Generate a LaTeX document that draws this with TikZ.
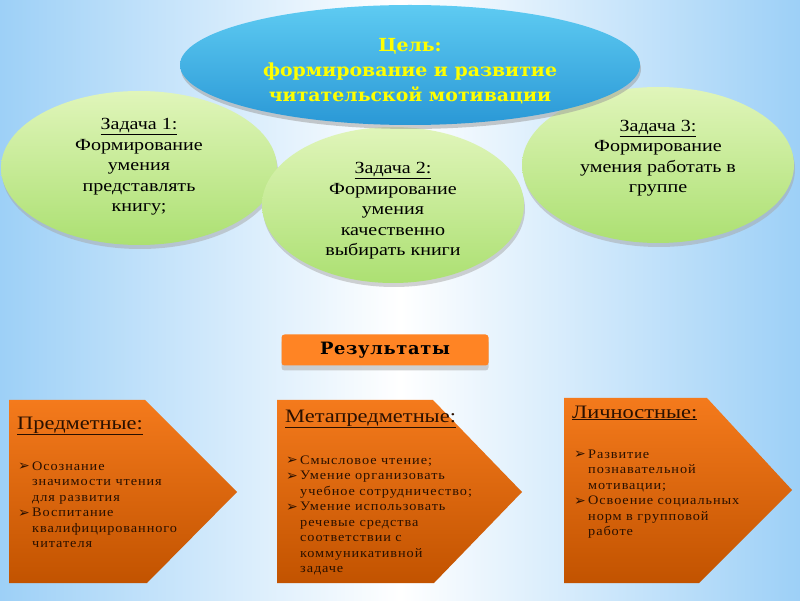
\documentclass[tikz,border=0pt]{standalone}
\usepackage{fontspec}
\setmainfont{Liberation Serif}
\newfontfamily\goalfont[FakeStretch=1.05]{DejaVu Serif}
\newfontfamily\taskfont[FakeStretch=1.18]{Liberation Serif}
\newfontfamily\resfont[FakeStretch=1.05,LetterSpace=4]{DejaVu Serif}
\newfontfamily\listfont[FakeStretch=1.1,LetterSpace=7]{Liberation Serif}
\newfontfamily\markfont{DejaVu Sans}
\usetikzlibrary{shapes.geometric, shadows, positioning}

\definecolor{skyedge}{HTML}{9DD0F7}
\definecolor{goaltop}{HTML}{5ECBF2}
\definecolor{goalbot}{HTML}{2A98D6}
\definecolor{goaltext}{HTML}{FFFF00}
\definecolor{tasktop}{HTML}{E0F5BA}
\definecolor{taskbot}{HTML}{ACE072}
\definecolor{resorange}{HTML}{FF8424}
\definecolor{penttop}{HTML}{F47A1C}
\definecolor{pentbot}{HTML}{C25300}
\definecolor{listtext}{HTML}{2A1000}

\newcommand{\mk}{\raisebox{-0.5pt}{\markfont\fontsize{14}{14}\selectfont ➢}}

\begin{document}
\begin{tikzpicture}[x=1pt, y=1pt,
  goal/.style={ellipse, inner sep=0pt, minimum width=460pt, minimum height=120pt,
    top color=goaltop, bottom color=goalbot,
    drop shadow={shadow xshift=1pt, shadow yshift=-4pt, fill=black!40, opacity=0.5}},
  goaltxt/.style={text=goaltext, align=center, font=\goalfont\bfseries\fontsize{18}{25}\selectfont},
  task/.style={ellipse, inner sep=0pt, minimum width=276pt, minimum height=154pt,
    top color=tasktop, bottom color=taskbot,
    drop shadow={shadow xshift=1pt, shadow yshift=-4pt, fill=black!35, opacity=0.5}},
  tasktxt/.style={align=center, font=\taskfont\fontsize{17}{20.5}\selectfont},
  result/.style={rectangle, rounded corners=3pt, fill=resorange, minimum width=207pt, minimum height=31pt,
    drop shadow={shadow xshift=0pt, shadow yshift=-5pt, fill=black!30, opacity=0.6},
    font=\resfont\bfseries\fontsize{17}{20}\selectfont},
  pent/.style={top color=penttop, bottom color=pentbot},
  head/.style={anchor=base west, inner sep=0pt, text=listtext, font=\taskfont\fontsize{19}{22}\selectfont},
  list/.style={anchor=base west, inner sep=0pt, text=listtext, font=\listfont\fontsize{13}{15.5}\selectfont}]
\useasboundingbox (0,0) rectangle (800,600);
% Background
\shade[left color=skyedge, right color=skyedge, middle color=white] (0,0) rectangle (800,600);
% Tasks
\node[task] (task1) at (139,432) {};
\node[tasktxt] (task1T) at ([yshift=1pt]task1.center) {\underline{Задача 1:}\\ Формирование\\ умения\\ представлять\\ книгу;};
\node[task, minimum width=272pt, minimum height=156pt] (task3) at (658,435) {};
\node[tasktxt] (task3T) at ([yshift=7pt]task3.center) {\underline{Задача 3:}\\ Формирование\\ умения работать в\\ группе};
\node[task, minimum width=262pt, minimum height=156pt] (task2) at (393,395) {};
\node[tasktxt] (task2T) at ([yshift=-6pt]task2.center) {\underline{Задача 2:}\\ Формирование\\ умения\\ качественно\\ выбирать книги};
% Goal
\node[goal] (goal) at (410,535) {};
\node[goaltxt] (goalT) at ([yshift=-6pt]goal.center) {Цель:\\ формирование и развитие\\ читательской мотивации};
% Results
\node[result] (res) at (385,250) {Результаты};
% Result groups
\shade[pent] (9,200) -- (145,200) -- (237,108) -- (147,17) -- (9,17) -- cycle;
\shade[pent] (277,200) -- (433,200) -- (522,108) -- (434,17) -- (277,17) -- cycle;
\shade[pent] (564,202) -- (707,202) -- (792,110) -- (699,17) -- (564,17) -- cycle;
\node[head] (predH) at (17,171) {\underline{Предметные:}};
\node[list] (predL) at (18,130) {\begin{tabular}[t]{@{}p{14pt}@{}l@{}}
  \mk & Осознание\\ & значимости чтения\\ & для развития\\
  \mk & Воспитание\\ & квалифицированного\\ & читателя\end{tabular}};
\node[head] (metaH) at (285,178) {\underline{Метапредметные:}};
\node[list] (metaL) at (286,136) {\begin{tabular}[t]{@{}p{14pt}@{}l@{}}
  \mk & Смысловое чтение;\\
  \mk & Умение организовать\\ & учебное сотрудничество;\\
  \mk & Умение использовать\\ & речевые средства\\ & соответствии с\\ & коммуникативной\\ & задаче\end{tabular}};
\node[head] (lichH) at (572,182) {\underline{Личностные:}};
\node[list] (lichL) at (574,142) {\begin{tabular}[t]{@{}p{14pt}@{}l@{}}
  \mk & Развитие\\ & познавательной\\ & мотивации;\\
  \mk & Освоение социальных\\ & норм в групповой\\ & работе\end{tabular}};
\end{tikzpicture}
\end{document}
